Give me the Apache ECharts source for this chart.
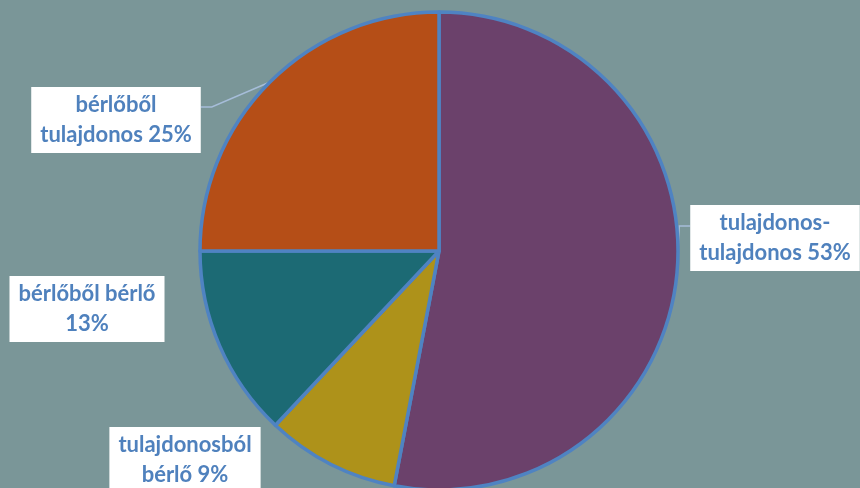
<!DOCTYPE html>
<html>
<head>
<meta charset="utf-8">
<script src="https://cdn.jsdelivr.net/npm/echarts@6/dist/echarts.min.js"></script>
<style>html,body{margin:0;padding:0;background:#7a9698;}#c{width:860px;height:488px;}</style>
</head>
<body>
<div id="c"></div>
<script>
const categories = ['tulajdonos-\ntulajdonos', 'tulajdonosból\nbérlő', 'bérlőből bérlő\n', 'bérlőből\ntulajdonos'];
const values = [53, 9, 13, 25];
const colors = ['#6b416b', '#ae921a', '#1c6a74', '#b54e17'];
// label box centers [x, y] and whether a leader line is drawn
const labelPos = [[775, 238], [185, 460], [87, 309], [116, 120]];
const showLine = [true, false, false, true];

const chart = echarts.init(document.getElementById('c'));
chart.setOption({
  backgroundColor: '#7a9698',
  animation: false,
  series: [{
    type: 'pie',
    center: [439, 251],
    radius: 239,
    startAngle: 90,
    clockwise: true,
    avoidLabelOverlap: false,
    data: categories.map((n, i) => ({
      name: n, value: values[i],
      itemStyle: { color: colors[i] },
      labelLine: { show: showLine[i] }
    })),
    itemStyle: { borderColor: '#4f83c2', borderWidth: 3.5 },
    label: {
      show: true,
      position: 'outside',
      formatter: p => {
        const n = p.name;
        return n.endsWith('\n') ? n + p.value + '%' : n + ' ' + p.value + '%';
      },
      backgroundColor: '#ffffff',
      color: '#4f81bd',
      fontFamily: 'Lato',
      fontWeight: 'bold',
      fontSize: 22,
      lineHeight: 30,
      padding: [4, 9, 2, 9],
      align: 'center'
    },
    labelLine: { lineStyle: { color: '#a6bdd9', width: 1.5 } },
    labelLayout: p => {
      const i = p.dataIndex;
      const [x, y] = labelPos[i];
      const out = { x: x, y: y, align: 'center', verticalAlign: 'middle' };
      if (showLine[i]) {
        const start = p.labelLinePoints[0];
        const w = p.labelRect.width;
        if (x > 439) {
          const ex = x - w / 2;
          out.labelLinePoints = [start, [ex - 11, y - 12], [ex, y - 12]];
        } else {
          const ex = x + w / 2;
          out.labelLinePoints = [start, [ex + 11, y - 13], [ex, y - 13]];
        }
      }
      return out;
    }
  }]
});
</script>
</body>
</html>
